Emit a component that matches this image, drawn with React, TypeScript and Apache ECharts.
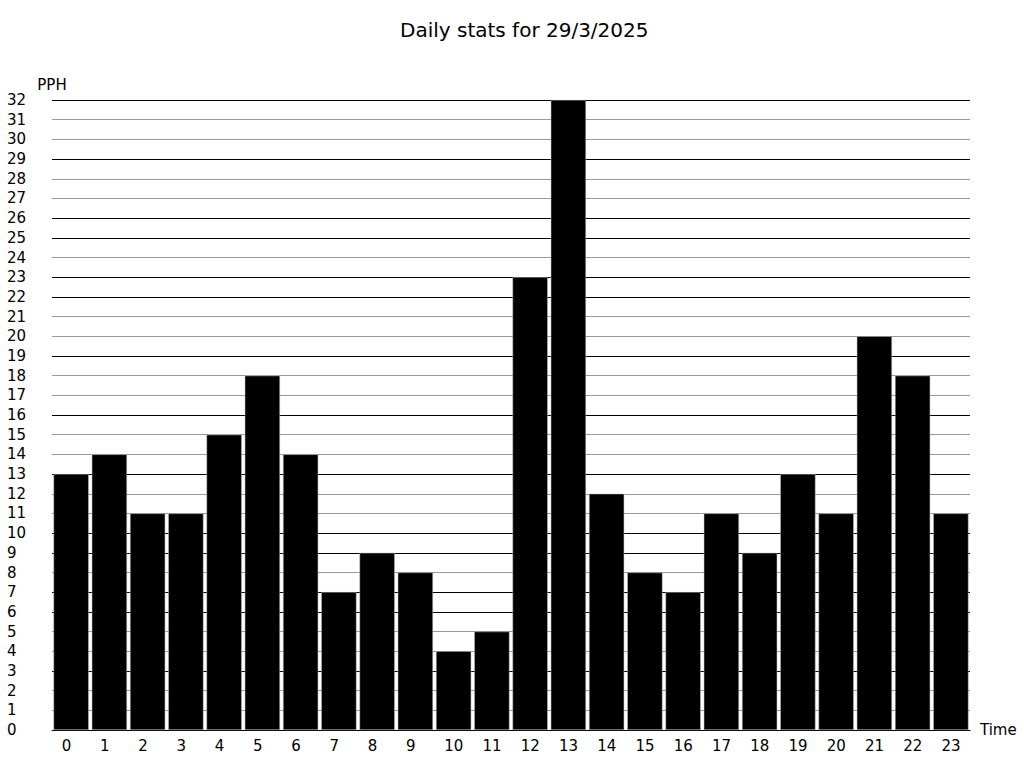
import React, { useEffect, useRef } from "react";
import * as echarts from "echarts";

const titleText = "Daily stats for 29/3/2025";
const hours = ["0","1","2","3","4","5","6","7","8","9","10","11","12","13","14","15","16","17","18","19","20","21","22","23"];
const pph = [13,14,11,11,15,18,14,7,9,8,4,5,23,32,12,8,7,11,9,13,11,20,18,11];
const yMax = 32;

const FONT = "DejaVu Sans";

export default function App() {
  const ref = useRef<HTMLDivElement>(null);
  useEffect(() => {
    if (!ref.current) return;
    const chart = echarts.init(ref.current, undefined, { renderer: "svg" });
    // alternate grid line shades imitating the reference's anti-aliasing
    const lineColors: string[] = [];
    for (let v = 0; v <= yMax; v++) {
      const f = (v * 630 / 32) % 1;
      lineColors.push(f < 0.2 || f > 0.8 ? "#000" : "#999");
    }
    chart.setOption({
      animation: false,
      textStyle: { fontFamily: FONT },
      title: {
        text: titleText,
        left: 395,
        top: 15,
        textStyle: { fontFamily: FONT, fontSize: 20, fontWeight: "normal", color: "#000" },
      },
      grid: { left: 52, right: 54, top: 100, bottom: 38, containLabel: false },
      xAxis: {
        type: "category",
        data: hours,
        name: "Time",
        nameLocation: "end",
        nameGap: 10,
        nameTextStyle: { fontFamily: FONT, fontSize: 15, color: "#000", verticalAlign: "middle" },
        axisLine: { show: true, lineStyle: { color: "#000", width: 1 } },
        axisTick: { show: false },
        axisLabel: {
          interval: 0,
          fontFamily: FONT,
          fontSize: 15,
          color: "#000",
          margin: 8,
          formatter: (v: string) => `{a|${v}}`,
          rich: { a: { width: 19, align: "left", fontFamily: FONT, fontSize: 15, color: "#000" } },
        },
      },
      yAxis: {
        type: "value",
        min: 0,
        max: yMax,
        interval: 1,
        name: "PPH",
        nameLocation: "end",
        nameGap: 8,
        nameTextStyle: { fontFamily: FONT, fontSize: 15, color: "#000" },
        axisLine: { show: false },
        axisTick: { show: false },
        axisLabel: { fontFamily: FONT, fontSize: 15, color: "#000", align: "left", margin: 45 },
        splitLine: { show: true, lineStyle: { color: lineColors, width: 1 } },
      },
      series: [
        {
          type: "bar",
          data: pph,
          barCategoryGap: "8%",
          itemStyle: { color: "#000", borderColor: "#bbb", borderWidth: 0.5 },
        },
      ],
    });
    return () => chart.dispose();
  }, []);
  return <div ref={ref} style={{ width: 1024, height: 768, position: "absolute", left: 0, top: 0 }} />;
}
